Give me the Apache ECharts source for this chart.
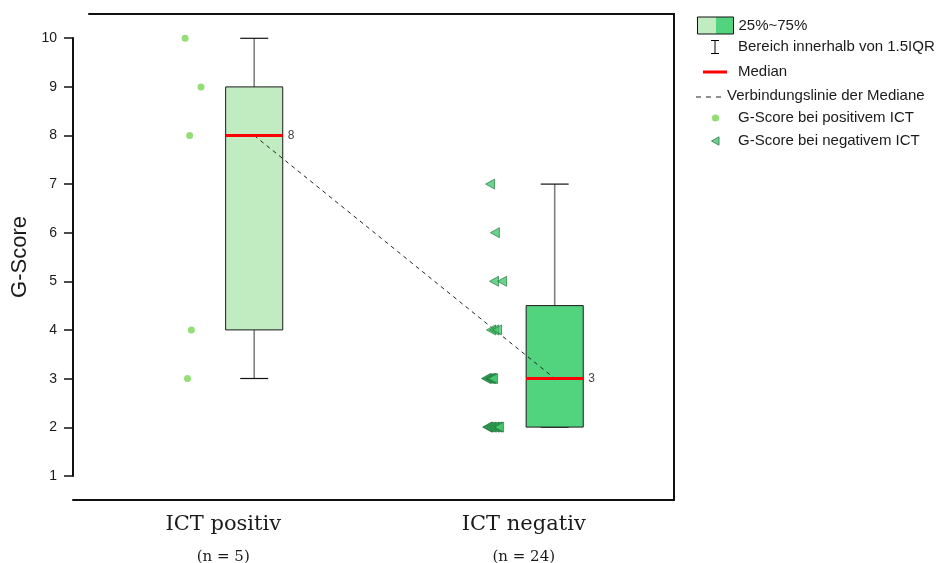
<!DOCTYPE html>
<html><head><meta charset="utf-8">
<script src="https://cdn.jsdelivr.net/npm/echarts@6/dist/echarts.min.js"></script>
<style>html,body{margin:0;padding:0;background:#fff}#c{width:948px;height:563px}</style>
</head><body><div id="c"></div>
<script>
// ---------- data ----------
const categories = ['ICT positiv', 'ICT negativ'];
const groupSizes = [5, 24];
// [lower whisker, Q1, median, Q3, upper whisker]
const boxPositive = [3, 4, 8, 9, 10];
const boxNegative = [2, 2, 3, 4.5, 7];
const positiveScores = [10, 9, 8, 4, 3];
const positiveJitter = [-0.127, -0.074, -0.112, -0.106, -0.119];
const negativeScores = [7, 6, 5, 5, 4, 4, 4, 3, 3, 3, 3, 3, 3, 3, 2, 2, 2, 2, 2, 2, 2, 2, 2, 2];
const negativeJitter = [-0.112, -0.096, -0.099, -0.072, -0.109, -0.099, -0.089,
  -0.126, -0.122, -0.116, -0.112, -0.109, -0.106, -0.102,
  -0.122, -0.119, -0.116, -0.109, -0.106, -0.099, -0.096, -0.089, -0.086, -0.082];
const yTickLabels = ['1', '2', '3', '4', '5', '6', '7', '8', '9', '10'];
const legendNames = ['25%~75%', 'Bereich innerhalb von 1.5IQR', 'Median',
  'Verbindungslinie der Mediane', 'G-Score bei positivem ICT', 'G-Score bei negativem ICT'];

// ---------- layout / style ----------
const BOX_OFFSET = 0.103, BOX_WIDTH = 0.19, CAP_WIDTH = 0.093;
const BOX_FILLS = ['#c1ecc1', '#52d47e'];
const POS_COLOR = '#78d652', NEG_FILL = '#45c76d', NEG_STROKE = '#1c6f36';
const TRI = 'path://M0,5L9,0L9,10Z';
const boxes = [boxPositive, boxNegative];
const boxData = boxes.map((b, i) => [i].concat(b));

function svgIcon(inner, w, h) {
  const s = '<svg xmlns="http://www.w3.org/2000/svg" width="' + w + '" height="' + h + '" viewBox="0 0 ' + w + ' ' + h + '">' + inner + '</svg>';
  return 'image://data:image/svg+xml;charset=utf-8,' + encodeURIComponent(s);
}

function renderBox(params, api) {
  const c = api.value(0) + BOX_OFFSET;
  const lo = api.coord([c - BOX_WIDTH / 2, api.value(2)]);
  const hi = api.coord([c + BOX_WIDTH / 2, api.value(4)]);
  return { type: 'rect', shape: { x: lo[0], y: hi[1], width: hi[0] - lo[0], height: lo[1] - hi[1] },
    style: { fill: BOX_FILLS[params.dataIndex], stroke: '#1a1a1a', lineWidth: 1 } };
}
function renderWhisker(params, api) {
  const c = api.value(0) + BOX_OFFSET;
  const pMin = api.coord([c, api.value(1)]), pQ1 = api.coord([c, api.value(2)]);
  const pQ3 = api.coord([c, api.value(4)]), pMax = api.coord([c, api.value(5)]);
  const capL = api.coord([c - CAP_WIDTH / 2, api.value(5)])[0], capR = api.coord([c + CAP_WIDTH / 2, api.value(5)])[0];
  const stem = { stroke: '#808080', lineWidth: 1.6 }, cap = { stroke: '#111', lineWidth: 1.2 };
  return { type: 'group', children: [
    { type: 'line', shape: { x1: pQ3[0], y1: pQ3[1], x2: pMax[0], y2: pMax[1] }, style: stem },
    { type: 'line', shape: { x1: pQ1[0], y1: pQ1[1], x2: pMin[0], y2: pMin[1] }, style: stem },
    { type: 'line', shape: { x1: capL, y1: pMax[1], x2: capR, y2: pMax[1] }, style: cap },
    { type: 'line', shape: { x1: capL, y1: pMin[1], x2: capR, y2: pMin[1] }, style: cap }
  ] };
}
function renderMedian(params, api) {
  const c = api.value(0) + BOX_OFFSET;
  const l = api.coord([c - BOX_WIDTH / 2, api.value(3)]), r = api.coord([c + BOX_WIDTH / 2, api.value(3)]);
  return { type: 'group', children: [
    { type: 'line', shape: { x1: l[0], y1: l[1], x2: r[0], y2: r[1] }, style: { stroke: '#ff0000', lineWidth: 3 } },
    { type: 'text', x: r[0] + 5, y: r[1], style: { text: String(api.value(3)), fill: '#444', font: '12px "Liberation Sans", Arial', verticalAlign: 'middle', align: 'left' } }
  ] };
}

const legendText = { fontFamily: '"Liberation Sans", Arial, sans-serif', fontSize: 15, color: '#1a1a1a' };
const legendIcons = [
  'rect',
  svgIcon('<line x1="18" y1="1.5" x2="18" y2="14.5" stroke="#000" stroke-width="1"/><line x1="14" y1="1.5" x2="22" y2="1.5" stroke="#000" stroke-width="1"/><line x1="14" y1="14.5" x2="22" y2="14.5" stroke="#000" stroke-width="1"/>', 36, 16),
  svgIcon('<line x1="6" y1="8" x2="30" y2="8" stroke="#ff0000" stroke-width="3"/>', 36, 16),
  svgIcon('<line x1="0" y1="9" x2="26" y2="9" stroke="#222" stroke-width="1.2" stroke-dasharray="5,5"/>', 26, 16),
  svgIcon('<circle cx="18.5" cy="8" r="3.6" fill="' + POS_COLOR + '"/>', 36, 16),
  svgIcon('<path d="M14.5,8 L22,3.8 L22,12.2 Z" fill="' + NEG_FILL + '" stroke="' + NEG_STROKE + '" stroke-width="1"/>', 36, 16)
];
const legendRowsY = [25, 47, 72, 96, 118, 141];
const legends = legendNames.map((name, i) => {
  const dashed = i === 3;
  const item = { name: name, icon: legendIcons[i] };
  if (i === 0) {
    item.itemStyle = { color: { type: 'linear', x: 0, y: 0, x2: 1, y2: 0, colorStops: [
      { offset: 0, color: BOX_FILLS[0] }, { offset: 0.5, color: BOX_FILLS[0] },
      { offset: 0.5, color: BOX_FILLS[1] }, { offset: 1, color: BOX_FILLS[1] }] },
      borderColor: '#111', borderWidth: 1 };
  }
  return { data: [item], orient: 'vertical', left: dashed ? 696 : 697, top: legendRowsY[i] - (i === 0 ? 8.5 : 8),
    itemWidth: dashed ? 26 : 36, itemHeight: i === 0 ? 17 : 16, padding: 0, selectedMode: false,
    textStyle: legendText };
});

const frameAxis = { axisLine: { show: true, onZero: false, lineStyle: { color: '#111', width: 2 } },
  axisTick: { show: false }, axisLabel: { show: false }, splitLine: { show: false } };

const option = {
  animation: false,
  backgroundColor: '#fff',
  legend: legends,
  grid: [
    { left: 73, right: 274, top: 14, bottom: 63, outerBoundsMode: 'none', containLabel: false },
    { left: 73, right: 274, top: 38, bottom: 87, outerBoundsMode: 'none', containLabel: false },
    { left: 89, right: 274, top: 14, bottom: 63, outerBoundsMode: 'none', containLabel: false }
  ],
  xAxis: [
    { gridIndex: 0, type: 'category', data: categories, boundaryGap: true,
      axisLine: { onZero: false, lineStyle: { color: '#111', width: 2 } },
      axisTick: { alignWithLabel: true, length: 8, lineStyle: { color: '#111', width: 1.5 } },
      axisLabel: { margin: 12, interval: 0,
        formatter: (v, idx) => '{a|' + v + '}\n{b|(n = ' + groupSizes[idx] + ')}',
        rich: { a: { fontFamily: '"DejaVu Serif", serif', fontSize: 21, lineHeight: 26, color: '#1a1a1a' },
                b: { fontFamily: '"DejaVu Serif", serif', fontSize: 15, lineHeight: 38, color: '#1a1a1a' } } } },
    { gridIndex: 0, type: 'value', min: -0.5, max: 1.5, show: false },
    { gridIndex: 1, type: 'value', min: 0, max: 1, show: false },
    Object.assign({ gridIndex: 2, type: 'value', position: 'top', min: 0, max: 1 }, frameAxis)
  ],
  yAxis: [
    { gridIndex: 0, type: 'value', min: 0.5, max: 10.5, show: false },
    { gridIndex: 1, type: 'value', min: Number(yTickLabels[0]), max: Number(yTickLabels[yTickLabels.length - 1]), interval: 1,
      name: 'G-Score', nameLocation: 'middle', nameGap: 40,
      nameTextStyle: { fontFamily: '"Liberation Sans", Arial, sans-serif', fontSize: 22, color: '#1a1a1a' },
      axisLine: { show: true, onZero: false, lineStyle: { color: '#111', width: 2 } },
      axisTick: { show: true, length: 9, lineStyle: { color: '#111', width: 1.5 } },
      axisLabel: { margin: 16, fontFamily: '"Liberation Sans", Arial, sans-serif', fontSize: 14, color: '#1a1a1a',
        formatter: (v) => yTickLabels[Math.round(v) - 1] },
      splitLine: { show: false } },
    Object.assign({ gridIndex: 2, type: 'value', position: 'right', min: 0, max: 1 }, frameAxis)
  ],
  series: [
    { name: legendNames[1], type: 'custom', xAxisIndex: 1, yAxisIndex: 0, data: boxData,
      encode: { x: 0, y: [1, 2, 3, 4, 5] }, renderItem: renderWhisker, clip: false, z: 2 },
    { name: legendNames[0], type: 'custom', xAxisIndex: 1, yAxisIndex: 0, data: boxData,
      encode: { x: 0, y: [1, 2, 3, 4, 5] }, renderItem: renderBox, clip: false, z: 2 },
    { name: legendNames[3], type: 'line', xAxisIndex: 1, yAxisIndex: 0,
      data: boxes.map((b, i) => [i + BOX_OFFSET, b[2]]), symbol: 'none',
      lineStyle: { type: [4, 4], color: '#222', width: 1 }, itemStyle: { color: '#222' }, z: 3 },
    { name: legendNames[2], type: 'custom', xAxisIndex: 1, yAxisIndex: 0, data: boxData,
      encode: { x: 0, y: [1, 2, 3, 4, 5] }, renderItem: renderMedian, clip: false, z: 4 },
    { name: legendNames[4], type: 'scatter', xAxisIndex: 1, yAxisIndex: 0,
      data: positiveScores.map((v, i) => [0 + positiveJitter[i], v]),
      symbol: 'circle', symbolSize: 7, itemStyle: { color: POS_COLOR }, z: 5 },
    { name: legendNames[5], type: 'scatter', xAxisIndex: 1, yAxisIndex: 0,
      data: negativeScores.map((v, i) => [1 + negativeJitter[i], v]),
      symbol: TRI, symbolSize: [9, 10], itemStyle: { color: NEG_FILL, borderColor: NEG_STROKE, borderWidth: 0.8 }, z: 5 }
  ]
};
const chart = echarts.init(document.getElementById('c'), null, { renderer: 'canvas' });
chart.setOption(option);
</script>
</body></html>
